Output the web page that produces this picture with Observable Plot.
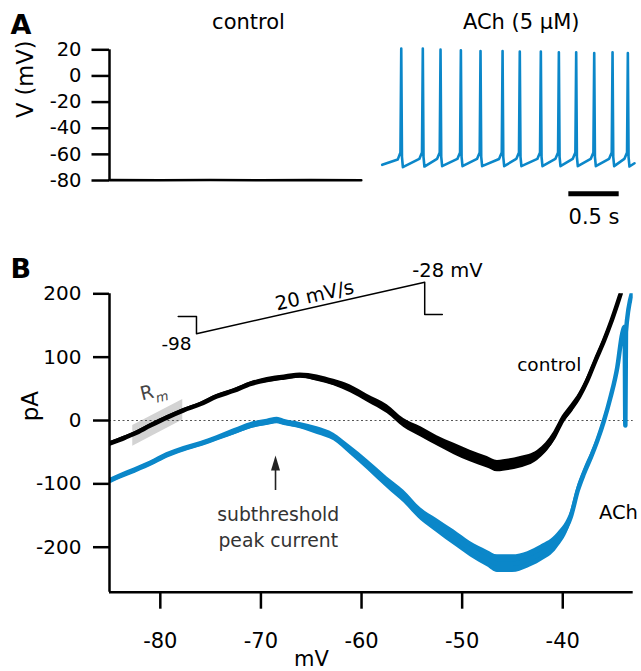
<!DOCTYPE html>
<html><head><meta charset="utf-8">
<script src="https://cdn.jsdelivr.net/npm/d3@7"></script>
<script src="https://cdn.jsdelivr.net/npm/@observablehq/plot@0.6"></script>
<style>
body{margin:0;background:#fff;}
#wrap{position:relative;width:641px;height:671px;overflow:hidden;}
#panelA{position:absolute;left:0;top:0;}
#panelB{position:absolute;left:0;top:235px;}
</style></head><body>
<div id="wrap"><div id="panelA"></div><div id="panelB"></div></div>
<script>
// ---------------- Panel A data (membrane voltage, mV vs time, s) ----------------
const achSweepStart = 2.708;                 // s, start of the ACh sweep on the shared time axis
const ctrlTimes = [0, 0.5, 1.0, 1.5, 2.0, 2.5];
const ctrlVolts = [-79.7, -79.8, -79.6, -79.8, -79.7, -79.8];
const spikeTimes = [0.189, 0.403, 0.579, 0.781, 0.976, 1.195, 1.366, 1.575, 1.754, 1.926, 2.105, 2.287, 2.439];
const spikePeaks = [20.9, 20.9, 20.1, 19.6, 19.1, 19.1, 18.6, 18.6, 18.1, 18.1, 17.5, 18.1, 17.5];
const ahpTroughs = [-69.8, -69.3, -69.0, -69.0, -69.0, -69.0, -69.0, -69.0, -69.0, -69.0, -69.0, -69.0, -69.3];
const preSpikeV  = [-64.0, -63.5, -63.5, -63.5, -63.5, -63.5, -63.5, -63.5, -63.5, -63.5, -63.5, -63.5, -63.5];
const thresholdV = -58.5;
const achFirstV = -68.0, achLastV = -66.8, achSweepEnd = 2.505;
const yTicksA = [20, 0, -20, -40, -60, -80];
const titlesA = ["control", "ACh (5 µM)"];
const scaleBarSec = 0.5;

// ---------------- Panel B data (current, pA vs voltage, mV) ----------------
const ctrlMV = [-85.0, -83.5, -82.6, -81.0, -79.3, -77.7, -76.0, -74.4, -72.7, -71.0, -69.4, -67.7, -66.1, -64.4, -62.75, -61.1, -59.4, -57.45, -55.8, -54.1, -52.5, -50.8, -49.2, -47.5, -46.5, -45.9, -44.2, -42.5, -40.9, -40.05, -39.2, -38.4, -37.57, -36.74, -35.9, -35.25, -34.58, -34.25];
const ctrlPA = [-36, -27, -21, -8, 5, 16, 26, 38, 47, 58, 64, 68, 71, 67, 60, 50, 35, 18, -4, -18, -32, -45, -56, -66, -72, -71, -66, -55, -26, 0, 18, 37, 63, 95, 126, 153, 184, 200];
const ctrlNoise = [3, 3, 3, 3, 3, 3, 3, 3, 3, 3, 4, 4, 4, 5, 5, 6, 6, 7, 7, 8, 8, 9, 9, 9, 9, 9, 9, 8, 8, 7, 7, 6, 6, 5, 5, 4, 4, 3];
const achMV = [-85.0, -84.0, -82.6, -81.0, -79.4, -77.7, -76.0, -74.4, -72.7, -71.0, -69.4, -68.4, -67.7, -66.1, -64.4, -62.75, -61.1, -59.4, -57.45, -55.8, -54.1, -52.5, -50.8, -49.2, -47.5, -46.5, -45.0, -43.5, -42.2, -40.55, -39.2, -38.5, -37.9, -37.2, -36.57, -35.9, -35.25, -34.58, -34.09, -33.85, -33.78, -33.72, -33.15];
const achPA = [-95, -88, -79, -68, -55, -45, -37, -28, -18, -8, -3, 0, -3, -8, -16, -26, -47, -70, -98, -120, -148, -166, -185, -203, -218, -226, -226, -220, -210, -190, -152, -110, -84, -58, -32, 0, 37, 84, 137, 148, -8, 140, 200];
const achNoise = [4, 4, 4, 4, 4, 4, 4, 4, 5, 5, 5, 5, 5, 5, 6, 6, 7, 8, 9, 10, 10, 11, 12, 12, 13, 14, 14, 13, 13, 12, 10, 9, 8, 7, 6, 6, 5, 4, 3, 2, 1, 2, 2];
const rmBandMV = [-82.74, -77.77];
const rmBandLo = [-40.5, 0.7];
const rmBandHi = [-7.9, 33.3];
const xTicksB = [-80, -70, -60, -50, -40];
const yTicksB = [200, 100, 0, -100, -200];
// voltage-clamp protocol inset: time (s) and command voltage (mV)
const protoTime = [0, 0.28, 0.28, 3.78, 3.78, 4.05];
const protoVolt = [-74.5, -74.5, -98, -28, -72, -72];

const blue = "#0b87c9";
const font = "'DejaVu Sans', sans-serif";
const fmt = d => String(d);

// ---------------- Panel A ----------------
const ctrlTrace = ctrlTimes.map((t, i) => ({t, v: ctrlVolts[i]}));
const achTrace = [{t: achSweepStart, v: achFirstV}];
spikeTimes.forEach((ts, k) => {
  const t0 = achSweepStart + ts;
  achTrace.push({t: t0 - 0.035, v: preSpikeV[k]});
  achTrace.push({t: t0 - 0.008, v: thresholdV});
  achTrace.push({t: t0, v: spikePeaks[k]});
  achTrace.push({t: t0 + 0.007, v: -62});
  achTrace.push({t: t0 + 0.016, v: ahpTroughs[k]});
});
achTrace.push({t: achSweepStart + achSweepEnd, v: achLastV});

const plotA = Plot.plot({
  width: 641, height: 235,
  marginLeft: 109, marginRight: 7, marginTop: 49.3, marginBottom: 55,
  x: {domain: [0, 5.213], axis: null},
  y: {domain: [-80, 20], axis: null},
  style: {fontFamily: font, fontSize: "19.5px", color: "black", background: "white", overflow: "visible"},
  marks: [
    Plot.ruleX([0], {stroke: "black", strokeWidth: 2.5}),
    Plot.axisY(yTicksA, {tickSize: 17.5, tickPadding: 10.5, fontSize: 19.5, strokeWidth: 2.5, tickFormat: fmt, label: null}),
    Plot.line(ctrlTrace, {x: "t", y: "v", stroke: "black", strokeWidth: 2.6}),
    Plot.line(achTrace, {x: "t", y: "v", stroke: blue, strokeWidth: 2.6, strokeLinejoin: "round"}),
    Plot.ruleY([-90.2], {x1: 4.561, x2: 4.561 + scaleBarSec, stroke: "black", strokeWidth: 5}),
    Plot.text([scaleBarSec + " s"], {x: 4.811, y: -113.1, text: d => d, fontSize: 21, lineAnchor: "bottom"}),
    Plot.text([titlesA[0]], {x: 1.380, y: 36.1, text: d => d, fontSize: 21, lineAnchor: "bottom"}),
    Plot.text([titlesA[1]], {x: 4.088, y: 36.1, text: d => d, fontSize: 21, lineAnchor: "bottom"}),
    Plot.text(["V (mV)"], {frameAnchor: "left", dx: -84, dy: 2.8, rotate: -90, text: d => d, fontSize: 22.5}),
    Plot.text(["A"], {frameAnchor: "top-left", dx: -99, dy: -16.3, textAnchor: "start", lineAnchor: "bottom", text: d => d, fontSize: 27, fontWeight: "bold"})
  ]
});
document.getElementById("panelA").appendChild(plotA);

// ---------------- Panel B ----------------
const ctrlIV = ctrlMV.map((v, i) => ({v, i: ctrlPA[i], lo: ctrlPA[i] - ctrlNoise[i], hi: ctrlPA[i] + ctrlNoise[i]}));
const achIV = achMV.map((v, i) => ({v, i: achPA[i], lo: achPA[i] - achNoise[i], hi: achPA[i] + achNoise[i]}));
const rmBand = rmBandMV.map((v, i) => ({v, lo: rmBandLo[i], hi: rmBandHi[i]}));
// inset placement in panel-B units
const insetX0 = -78.22, insetXPerS = 6.481, insetY0 = 136.9, insetYPerMV = 1.1634;
const proto = protoTime.map((t, i) => ({x: insetX0 + t * insetXPerS, y: insetY0 + (protoVolt[i] + 98) * insetYPerMV}));
const arrowHead = {draw(ctx) { ctx.moveTo(0, -7.5); ctx.lineTo(4.5, 7.5); ctx.lineTo(-4.5, 7.5); ctx.closePath(); }};
const smooth = "monotone-x";

const plotB = Plot.plot({
  width: 641, height: 436,
  marginLeft: 109, marginRight: 8.3, marginTop: 58.3, marginBottom: 79.3,
  x: {domain: [-85.05, -33], axis: null},
  y: {domain: [-271, 200], axis: null},
  style: {fontFamily: font, fontSize: "20px", color: "black", background: "white", overflow: "visible"},
  marks: [
    Plot.areaY(rmBand, {x: "v", y1: "lo", y2: "hi", fill: "#d3d3d3"}),
    Plot.ruleY([0], {stroke: "#555", strokeWidth: 1.2, strokeDasharray: "2,2.5"}),
    Plot.areaY(achIV, {x: "v", y1: "lo", y2: "hi", fill: blue, clip: true, curve: smooth}),
    Plot.line(achIV, {x: "v", y: "i", stroke: blue, strokeWidth: 4.5, clip: true, curve: smooth}),
    Plot.areaY(ctrlIV, {x: "v", y1: "lo", y2: "hi", fill: "black", clip: true, curve: smooth}),
    Plot.line(ctrlIV, {x: "v", y: "i", stroke: "black", strokeWidth: 4.5, clip: true, curve: smooth}),
    Plot.line(proto, {x: "x", y: "y", stroke: "black", strokeWidth: 1.5}),
    Plot.text(["-98"], {x: -78.39, y: 111.6, text: d => d, fontSize: 18.5, lineAnchor: "bottom"}),
    Plot.text(["-28 mV"], {x: -54.96, y: 227.3, text: d => d, fontSize: 19.5, textAnchor: "start", lineAnchor: "bottom"}),
    Plot.text(["20 mV/s"], {x: -64.67, y: 197, text: d => d, fontSize: 19.5, rotate: -12.7}),
    Plot.text(["control"], {x: -44.53, y: 77.8, text: d => d, fontSize: 18.5, textAnchor: "start", lineAnchor: "bottom"}),
    Plot.text(["ACh"], {x: -36.41, y: -155.2, text: d => d, fontSize: 19.5, textAnchor: "start", lineAnchor: "bottom"}),
    Plot.text(["subthreshold"], {x: -68.28, y: -157.9, text: d => d, fontSize: 18.8, fill: "#333", lineAnchor: "bottom"}),
    Plot.text(["peak current"], {x: -68.28, y: -200, text: d => d, fontSize: 18.8, fill: "#333", lineAnchor: "bottom"}),
    Plot.ruleX([-68.55], {y1: -110.5, y2: -70, stroke: "#222", strokeWidth: 1.6}),
    Plot.dot([-68.55], {x: d => d, y: -67.1, symbol: arrowHead, fill: "#222", stroke: null}),
    Plot.text(["R"], {x: -81.32, y: 43.4, text: d => d, fontSize: 19, fill: "#444", rotate: -14}),
    Plot.text(["m"], {x: -79.81, y: 36.8, text: d => d, fontSize: 13, fill: "#444", fontStyle: "italic", rotate: -14}),
    Plot.ruleX([-85.05], {stroke: "black", strokeWidth: 2.5}),
    Plot.ruleY([-271], {stroke: "black", strokeWidth: 2.5}),
    Plot.axisY(yTicksB, {tickSize: 16, tickPadding: 12, fontSize: 20, strokeWidth: 2.5, tickFormat: fmt, label: null}),
    Plot.axisX(xTicksB, {tickSize: 17, tickPadding: 24, fontSize: 21, strokeWidth: 2.5, tickFormat: fmt, label: null}),
    Plot.text(["pA"], {frameAnchor: "left", dx: -79, dy: -21.7, rotate: -90, text: d => d, fontSize: 23}),
    Plot.text(["mV"], {frameAnchor: "bottom", dx: -60, dy: 73.5, lineAnchor: "bottom", text: d => d, fontSize: 21}),
    Plot.text(["B"], {frameAnchor: "top-left", dx: -99, dy: -16.3, textAnchor: "start", lineAnchor: "bottom", text: d => d, fontSize: 27, fontWeight: "bold"})
  ]
});
document.getElementById("panelB").appendChild(plotB);
</script>
</body></html>
